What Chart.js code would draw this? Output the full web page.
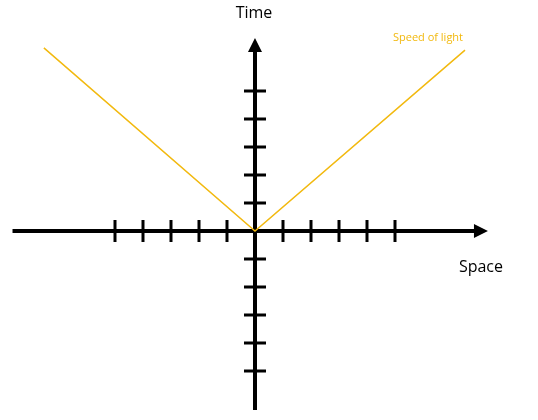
<!DOCTYPE html>
<html><head><meta charset="utf-8">
<script src="https://cdn.jsdelivr.net/npm/chart.js@4"></script>
<style>html,body{margin:0;padding:0;background:#fff}#c{display:block}</style>
</head><body>
<div style="width:538px;height:420px"><canvas id="c"></canvas></div>
<script>
// light cone: x = space, y = time (one tick = one unit)
const lightX = [-7.54, 0, 7.5]
const lightY = [6.54, 0, 6.46]
const spaceTicks = [-5, -4, -3, -2, -1, 1, 2, 3, 4, 5]
const timeTicks = [-5, -4, -3, -2, -1, 1, 2, 3, 4, 5]
const axisX = [-8.66, 8.32]
const axisY = [-6.39, 6.89]

const axesPlugin = {
  id: 'axes',
  beforeDatasetsDraw(chart) {
    const { ctx, scales: { x, y } } = chart
    const ox = x.getPixelForValue(0), oy = y.getPixelForValue(0)
    ctx.save()
    ctx.strokeStyle = '#000'; ctx.fillStyle = '#000'
    ctx.lineWidth = 4
    const x0 = x.getPixelForValue(axisX[0]), x1 = x.getPixelForValue(axisX[1])
    const y0 = y.getPixelForValue(axisY[0]), y1 = y.getPixelForValue(axisY[1])
    ctx.beginPath()
    ctx.moveTo(x0, oy); ctx.lineTo(x1 - 10, oy)
    ctx.moveTo(ox, y0); ctx.lineTo(ox, y1 + 10)
    ctx.stroke()
    // arrow heads
    ctx.beginPath()
    ctx.moveTo(x1, oy); ctx.lineTo(x1 - 14, oy - 7); ctx.lineTo(x1 - 14, oy + 7); ctx.closePath()
    ctx.moveTo(ox, y1); ctx.lineTo(ox - 7, y1 + 14); ctx.lineTo(ox + 7, y1 + 14); ctx.closePath()
    ctx.fill()
    ctx.lineWidth = 3
    ctx.beginPath()
    spaceTicks.forEach(v => {
      const px = x.getPixelForValue(v)
      ctx.moveTo(px, oy - 11); ctx.lineTo(px, oy + 11)
    })
    timeTicks.forEach(v => {
      const py = y.getPixelForValue(v)
      ctx.moveTo(ox - 11, py); ctx.lineTo(ox + 11, py)
    })
    ctx.stroke()
    ctx.font = '16px "Open Sans", sans-serif'
    ctx.textAlign = 'center'; ctx.textBaseline = 'middle'
    ctx.fillText('Time', ox - 1, 13)
    ctx.fillText('Space', x1 - 7, oy + 36)
    ctx.fillStyle = '#f2b90f'
    ctx.font = '11px "Open Sans", sans-serif'
    ctx.fillText('Speed of light', 428, 38)
    ctx.restore()
  }
}

new Chart(document.getElementById('c'), {
  type: 'scatter',
  data: {
    datasets: [{
      data: lightX.map((v, i) => ({ x: v, y: lightY[i] })),
      showLine: true,
      borderColor: '#f2b90f',
      borderWidth: 1.5,
      pointRadius: 0,
      tension: 0
    }]
  },
  options: {
    responsive: true, maintainAspectRatio: false, animation: false,
    layout: { padding: 0 },
    plugins: { legend: { display: false }, tooltip: { enabled: false } },
    scales: {
      x: { type: 'linear', min: -9.107, max: 10.107, display: false },
      y: { type: 'linear', min: -6.75, max: 8.25, display: false }
    }
  },
  plugins: [axesPlugin]
})
</script>
</body></html>
